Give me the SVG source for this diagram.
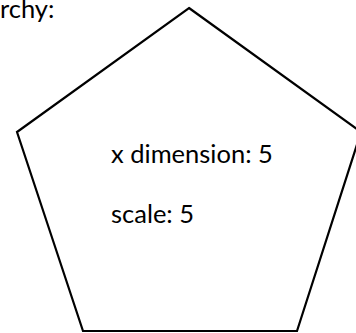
<svg xmlns="http://www.w3.org/2000/svg" width="356" height="333" viewBox="0 0 356 333">
<style>
text{font-family:Lato,"Open Sans","Liberation Sans",sans-serif;font-size:25.5px;fill:#000}
.shape{fill:#fff;stroke:#000;stroke-width:2.2;stroke-linejoin:miter}
</style>
<rect width="356" height="333" fill="#fff"/>
<text x="0" y="18">rchy:</text>
<g id="pentagon">
<polygon class="shape" points="189,8 361,132 297,331 83,331 17,132"/>
<text x="111" y="163">x dimension: 5</text>
<text x="111" y="223">scale: 5</text>
</g>
<g id="connectors"></g>
</svg>
